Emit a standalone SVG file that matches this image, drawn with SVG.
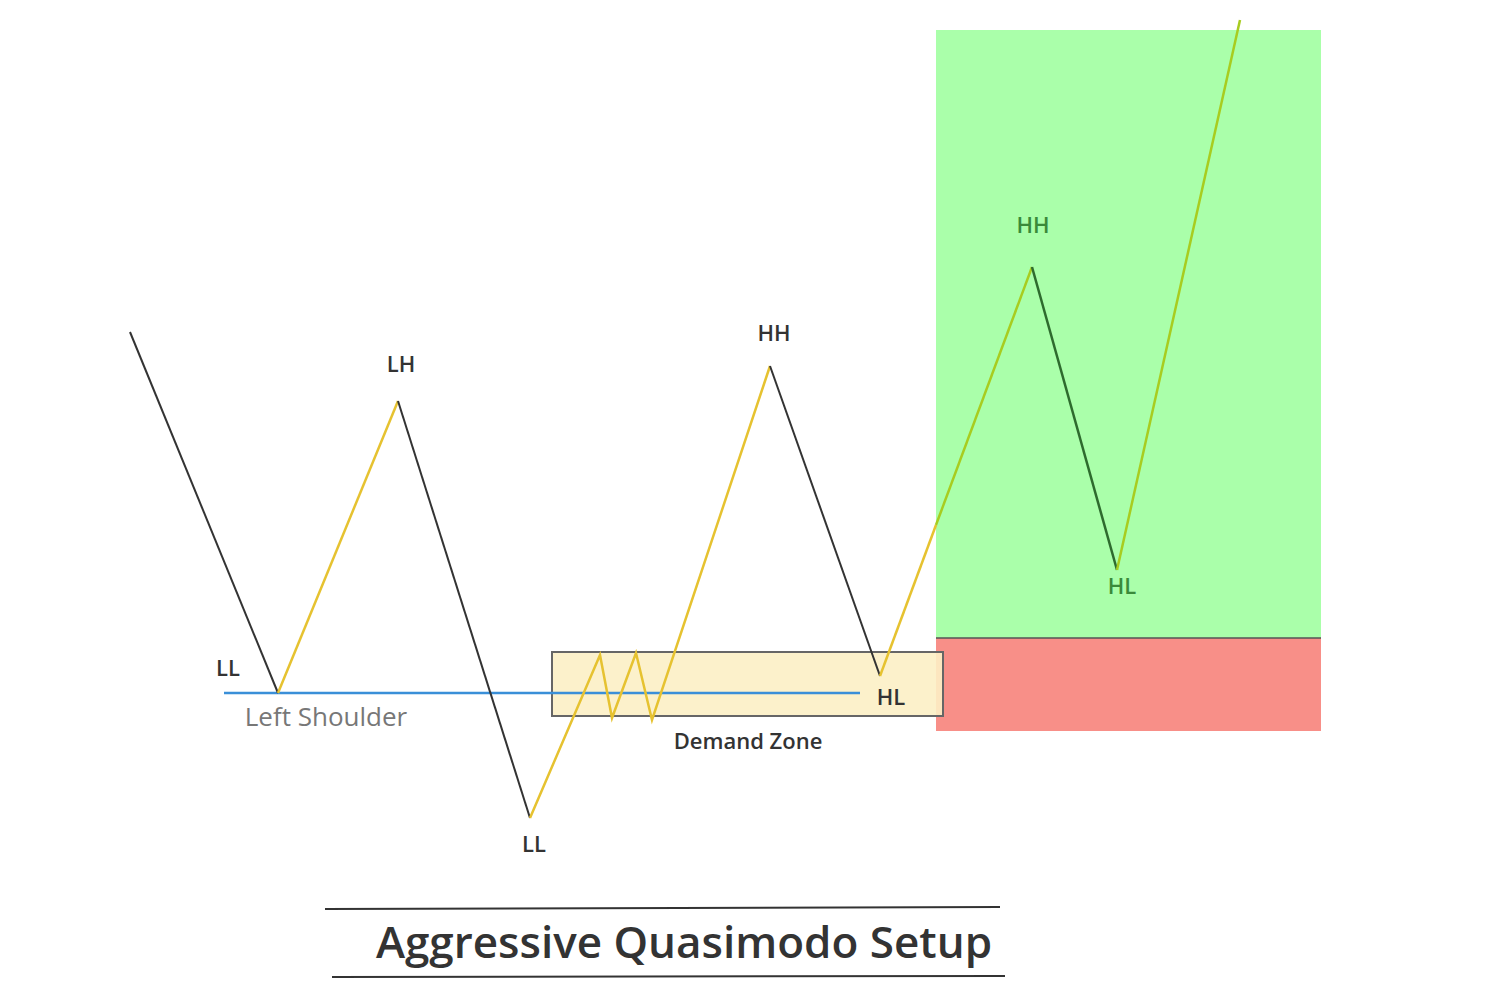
<svg xmlns="http://www.w3.org/2000/svg" width="1500" height="1000" viewBox="0 0 1500 1000">
<style>
.lbl{font-family:"Open Sans","DejaVu Sans",sans-serif;font-size:22px;font-weight:600;fill:#333;text-anchor:middle}
.g{fill:#3a8a3a}
.blk{stroke:#333;stroke-width:2;fill:none}
.yel{stroke:#e6c230;stroke-width:2.5;fill:none}
</style>
<rect width="1500" height="1000" fill="#fff"/>
<g id="zones">
<rect x="936" y="30" width="385" height="608" fill="#aaffaa"/>
<rect x="936" y="638" width="385" height="93" fill="#f88f88"/>
<line x1="936" y1="638" x2="1321" y2="638" stroke="#555" stroke-width="1.5"/>
<rect id="demand" x="552" y="652" width="391" height="64" fill="#fcefc5" fill-opacity="0.9" stroke="#666" stroke-width="2"/>
</g>
<g id="connectors">
<line x1="224" y1="693" x2="860" y2="693" stroke="#3a8fd8" stroke-width="2.5"/>
<polyline class="blk" points="130,332 278,693"/>
<polyline class="yel" points="278,693 398,401"/>
<polyline class="blk" points="398,401 530,818"/>
<polyline class="yel" points="530,818 600,655 612,718 636,653 652,720 770,366"/>
<polyline class="blk" points="770,366 880,676"/>
<polyline class="yel" points="880,676 936,525"/>
<polyline points="936,525 1032,267" stroke="#a8cc20" stroke-width="2.5" fill="none"/>
<polyline points="1032,267 1117,570" stroke="#2e6b2e" stroke-width="2.5" fill="none"/>
<polyline points="1117,570 1240,20" stroke="#a8cc20" stroke-width="2.5" fill="none"/>
</g>
<g id="labels">
<text class="lbl" x="228" y="676">LL</text>
<text class="lbl" x="401" y="372">LH</text>
<text class="lbl" x="534" y="852">LL</text>
<text class="lbl" x="774" y="341">HH</text>
<text class="lbl" x="891" y="705">HL</text>
<text class="lbl" x="748" y="749">Demand Zone</text>
<text x="326" y="726" style="font-family:'Open Sans','DejaVu Sans',sans-serif;font-size:26px;fill:#777;text-anchor:middle">Left Shoulder</text>
<text class="lbl g" x="1033" y="233">HH</text>
<text class="lbl g" x="1122" y="594">HL</text>
</g>
<g id="title">
<line x1="325" y1="909" x2="1000" y2="907" stroke="#333" stroke-width="2"/>
<line x1="332" y1="977" x2="1005" y2="976" stroke="#333" stroke-width="2"/>
<text x="684" y="958" style="font-family:'Open Sans','DejaVu Sans',sans-serif;font-size:44px;font-weight:600;fill:#333;text-anchor:middle">Aggressive Quasimodo Setup</text>
</g>
</svg>
